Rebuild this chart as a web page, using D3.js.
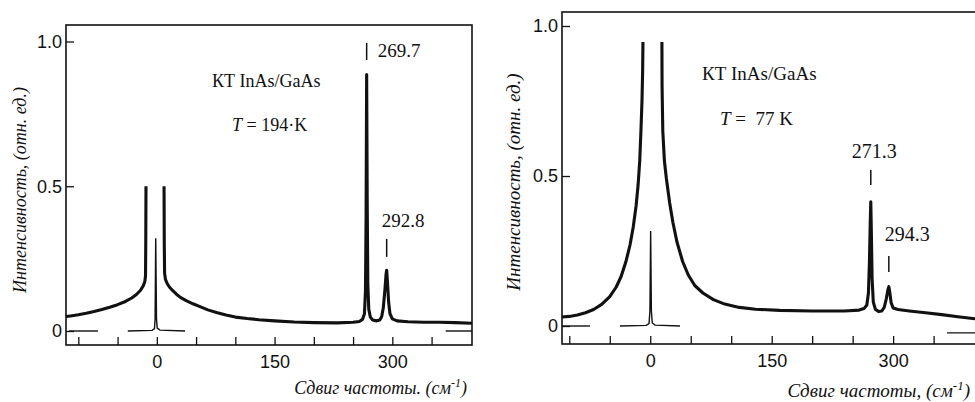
<!DOCTYPE html>
<html>
<head>
<meta charset="utf-8">
<script src="https://cdn.jsdelivr.net/npm/d3@7"></script>
<style>
body{margin:0;background:#fff}
svg{display:block}
.tick text{font-family:"Liberation Sans Narrow","Liberation Sans",Arial,sans-serif;font-size:18px;fill:#111}
.ser{font-family:"Liberation Serif","Times New Roman",serif;fill:#111;white-space:pre}
</style>
</head>
<body>
<svg id="box" width="975" height="402"></svg>
<script>
// axis ticks
let xTicks=[-100,-50,0,50,100,150,200,250,300,350];
let xLabels=[0,150,300];
let yTicks=[0,0.5,1];
let yLabels=["0","0.5","1.0"];

// T = 194 K : spectrum (two wings cut at the notch), laser line, zero marks
let wingL194=[[-115.7,0.05],[-110,0.052],[-100,0.056],[-90,0.061],[-80,0.067],[-70,0.074],[-60,0.082],[-50,0.091],[-40,0.102],[-32,0.114],[-26,0.126],[-21,0.14],[-17.5,0.155],[-15.3,0.17],[-14.4,0.19],[-14.1,0.3],[-13.8,0.5]];
let wingR194=[[9.2,0.5],[9.5,0.3],[9.9,0.2],[11,0.178],[13,0.165],[16,0.152],[20,0.14],[25,0.127],[30,0.116],[38,0.104],[46,0.094],[55,0.084],[65,0.073],[76,0.064],[88,0.055],[100,0.048],[115,0.043],[130,0.039],[150,0.035],[175,0.031],[200,0.029],[230,0.028],[250,0.03],[258,0.033],[262,0.04],[264.5,0.06],[265.8,0.14],[266.6,0.4],[267.3,0.886],[268,0.45],[268.8,0.16],[270,0.075],[272,0.048],[275,0.038],[280,0.035],[284,0.038],[286.5,0.05],[288.5,0.08],[290.5,0.14],[292,0.195],[292.8,0.21],[293.8,0.17],[295.3,0.1],[297,0.06],[300,0.042],[306,0.035],[320,0.032],[340,0.03],[360,0.03],[380,0.029],[401.5,0.027]];
let laser194=[[-37,0],[-6,0.002],[-3,0.008],[-2.2,0.04],[-1.8,0.18],[-1.4,0.32],[-0.9,0.18],[-0.4,0.04],[0.5,0.01],[4,0.003],[36,0]];
let zeroA194=[[-112,0],[-75,0]];
let zeroB194=[[368,0],[401.5,0]];
let peaks194=[267.3,292.8];
let peakNames194=["269.7","292.8"];

// T = 77 K
let wingL77=[[-109,0.03],[-100,0.032],[-90,0.037],[-80,0.044],[-70,0.055],[-60,0.072],[-50,0.098],[-42,0.13],[-36,0.165],[-30,0.215],[-25,0.27],[-21,0.33],[-17.5,0.4],[-15,0.47],[-13,0.55],[-11.5,0.65],[-10.2,0.75],[-9.4,0.85],[-9,0.947]];
let wingR77=[[14.4,0.947],[14.6,0.8],[15.5,0.65],[17.5,0.55],[20,0.49],[24,0.41],[28,0.345],[33,0.28],[40,0.215],[47,0.17],[55,0.135],[65,0.11],[78,0.088],[92,0.073],[110,0.062],[130,0.056],[160,0.052],[200,0.05],[240,0.05],[258,0.053],[264,0.058],[267.5,0.07],[269.5,0.11],[270.8,0.22],[271.7,0.34],[272.4,0.414],[273.2,0.3],[274,0.16],[275.5,0.08],[278,0.056],[282,0.048],[286,0.05],[289,0.062],[291.5,0.09],[293.5,0.12],[294.7,0.131],[296,0.11],[297.5,0.078],[300,0.06],[306,0.055],[320,0.05],[340,0.044],[360,0.038],[380,0.031],[401,0.024],[432,0.02]];
let laser77=[[-37.4,0],[-5,0.002],[-1.5,0.008],[-0.4,0.05],[0.1,0.2],[0.5,0.317],[0.9,0.2],[1.4,0.05],[2.5,0.01],[6,0.003],[36.7,0]];
let zeroA77=[[-109,0],[-74.5,0]];
let zeroB77=[[366.5,-0.023],[432,-0.023]];
let peaks77=[272.4,294.7];
let peakNames77=["271.3","294.3"];

let box=d3.select("#box");

function panel(p){
  let x=d3.scaleLinear().domain(p.xd).range([p.left,p.right]);
  let y=d3.scaleLinear().domain([0,1]).range([p.y0,p.y1]);
  let g=box.append("g");

  let yAxis=d3.axisLeft(y).tickValues(yTicks).tickFormat((d,i)=>yLabels[i]).tickSize(-8).tickPadding(4);
  let xAxis=d3.axisBottom(x).tickValues(xTicks).tickFormat(d=>xLabels.includes(d)?d:"").tickSize(-8).tickPadding(10);
  g.append("g").attr("transform","translate("+p.left+",0)").call(yAxis);
  g.append("g").attr("transform","translate(0,"+p.bottom+")").call(xAxis);
  g.selectAll(".domain").remove();
  g.selectAll(".tick line").attr("stroke","#111").attr("stroke-width",1.3);
  g.selectAll(".tick text").attr("fill","#111");

  g.append("rect").attr("x",p.left).attr("y",p.top).attr("width",p.right-p.left).attr("height",p.bottom-p.top)
    .attr("fill","none").attr("stroke","#111").attr("stroke-width",1.6);

  let line=d3.line().x(d=>x(d[0])).y(d=>y(d[1]));
  [p.zeroA,p.zeroB,p.laser].forEach(s=>{
    g.append("path").attr("d",line(s)).attr("fill","none").attr("stroke","#111").attr("stroke-width",1.4);
  });
  [p.wingL,p.wingR].forEach(s=>{
    g.append("path").attr("d",line(s)).attr("fill","none").attr("stroke","#111").attr("stroke-width",3.1).attr("stroke-linejoin","round");
  });

  // peak markers and their labels
  p.peaks.forEach((v,i)=>{
    let m=p.marks[i];
    g.append("line").attr("x1",x(v)).attr("x2",x(v)).attr("y1",y(m[0])).attr("y2",y(m[1]))
      .attr("stroke","#111").attr("stroke-width",1.5);
    g.append("text").attr("class","ser").attr("x",x(v)+p.lab[i][0]).attr("y",y(m[0])+p.lab[i][1])
      .style("font-size",p.fs+1+"px").text(p.names[i]);
  });

  g.append("text").attr("class","ser").attr("x",p.kt[0]).attr("y",p.kt[1]).style("font-size",p.fs+"px").text("КТ InAs/GaAs");
  let t=g.append("text").attr("class","ser").attr("x",p.tt[0]).attr("y",p.tt[1]).style("font-size",p.fs+"px");
  t.append("tspan").style("font-style","italic").text("T");
  t.append("tspan").text(p.temp);

  let xt=g.append("text").attr("class","ser").attr("x",p.xt[0]).attr("y",p.xt[1]).attr("text-anchor","end")
    .style("font-size",p.fs+"px").style("font-style","italic");
  xt.append("tspan").text(p.xTitle);
  xt.append("tspan").attr("dy",-7).style("font-size",(p.fs-6)+"px").text("-1");
  xt.append("tspan").attr("dy",7).text(")");

  g.append("text").attr("class","ser").attr("transform","translate("+p.yt[0]+","+p.yt[1]+") rotate(-90)")
    .attr("text-anchor","middle").style("font-size",p.fs+"px").style("font-style","italic")
    .text("Интенсивность, (отн. ед.)");
}

panel({left:66,right:472,top:25,bottom:345,xd:[-115.7,401.5],y0:331,y1:41.5,fs:18,
  wingL:wingL194,wingR:wingR194,laser:laser194,zeroA:zeroA194,zeroB:zeroB194,
  peaks:peaks194,names:peakNames194,marks:[[0.995,0.936],[0.318,0.256]],lab:[[11,14],[-5,-12]],
  kt:[212,87],tt:[232,131],temp:" = 194·K",xt:[467,394],xTitle:"Сдвиг частоты. (см",yt:[26,190]});

panel({left:562,right:1000,top:12,bottom:344,xd:[-109,432],y0:326,y1:26,fs:19,
  wingL:wingL77,wingR:wingR77,laser:laser77,zeroA:zeroA77,zeroB:zeroB77,
  peaks:peaks77,names:peakNames77,marks:[[0.52,0.47],[0.233,0.18]],lab:[[-19,-12],[-4,-15]],
  kt:[702,80],tt:[720,125],temp:" =  77 K",xt:[970,397],xTitle:"Сдвиг частоты, (см",yt:[520,182]});
</script>
</body>
</html>
